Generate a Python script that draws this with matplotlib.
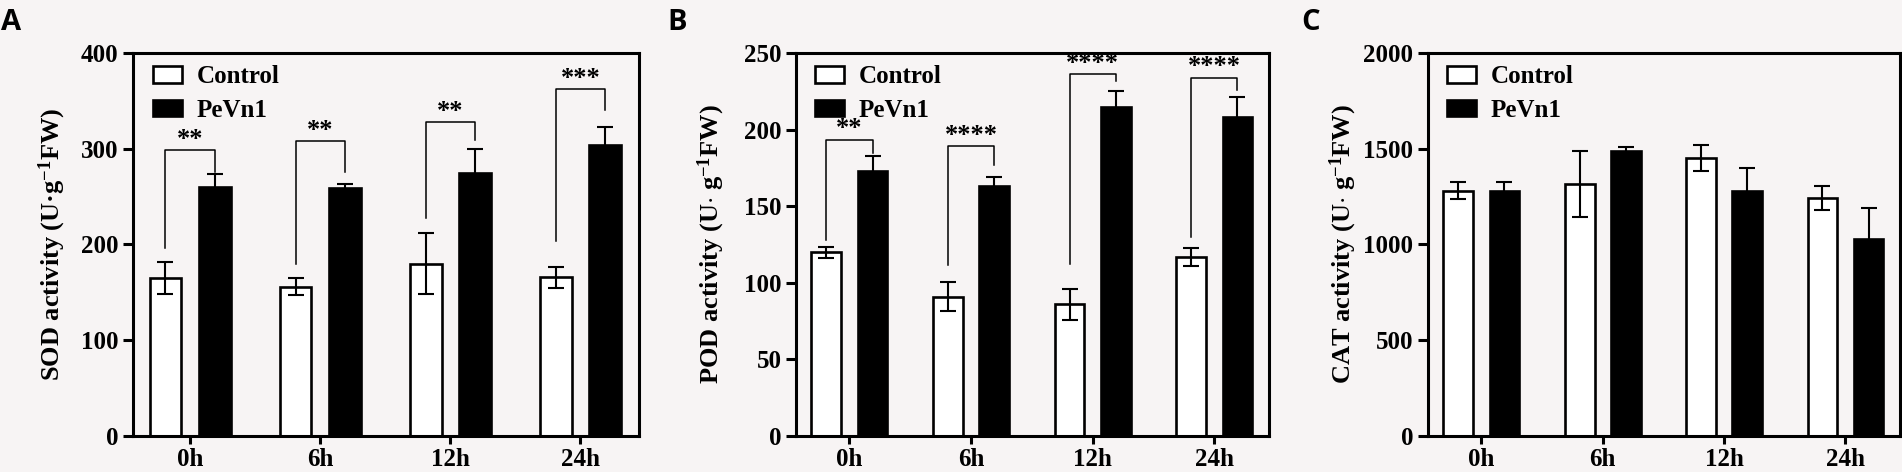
import numpy as np
import matplotlib
matplotlib.use("Agg")
import matplotlib.pyplot as plt

# Sampling times (x categories)
times = ["0h", "6h", "12h", "24h"]

# Panel A - SOD activity
sod_control = [165, 156, 180, 166]
sod_control_err = [17, 9, 32, 11]
sod_pevn1 = [260, 259, 275, 304]
sod_pevn1_err = [14, 4.5, 25, 19]
sod_stars = ["**", "**", "**", "***"]
sod_bracket_top = [299, 308, 328, 362]
sod_bracket_left = [196, 180, 228, 204]
sod_bracket_right = [276, 276, 309, 340]

# Panel B - POD activity
pod_control = [120, 91, 86, 117]
pod_control_err = [3.5, 9.5, 10, 6]
pod_pevn1 = [173, 163, 215, 208]
pod_pevn1_err = [10, 6, 10.5, 13]
pod_stars = ["**", "****", "****", "****"]
pod_bracket_top = [193.5, 189, 236, 234]
pod_bracket_left = [128, 111.5, 112.5, 130]
pod_bracket_right = [185, 177, 232, 226]

# Panel C - CAT activity
cat_control = [1280, 1316, 1452, 1242]
cat_control_err = [45, 173, 70, 61]
cat_pevn1 = [1280, 1489, 1280, 1031]
cat_pevn1_err = [45, 21, 120, 162]

BG = "#f7f4f4"
SERIF = "Liberation Serif"
BAR_W = 0.245
OFFSET = 0.19

plt.rcParams["font.family"] = SERIF
plt.rcParams["font.weight"] = "bold"
plt.rcParams["mathtext.fontset"] = "custom"
plt.rcParams["mathtext.rm"] = "Liberation Serif:bold"
plt.rcParams["mathtext.bf"] = "Liberation Serif:bold"
plt.rcParams["mathtext.it"] = "Liberation Serif:bold"
plt.rcParams["mathtext.default"] = "bf"


def draw_panel(ax, control, control_err, pevn1, pevn1_err, ymax, ystep, ylabel,
               label_x, stars=None, top=None, left=None, right=None):
    x = np.arange(len(times))
    ax.set_facecolor(BG)
    ax.bar(x - OFFSET, control, BAR_W, color="white", edgecolor="black",
           linewidth=1.9, label="Control", zorder=2)
    ax.bar(x + OFFSET, pevn1, BAR_W, color="black", edgecolor="black",
           linewidth=1.9, label="PeVn1", zorder=2)
    ax.errorbar(x - OFFSET, control, yerr=control_err, fmt="none", ecolor="black",
                elinewidth=1.5, capsize=5.5, capthick=1.5, zorder=3)
    ax.errorbar(x + OFFSET, pevn1, yerr=pevn1_err, fmt="none", ecolor="black",
                elinewidth=1.5, capsize=5.5, capthick=1.5, zorder=3)

    # significance brackets
    if stars is not None:
        for i, s in enumerate(stars):
            xl, xr = x[i] - OFFSET, x[i] + OFFSET
            ax.plot([xl, xl, xr, xr], [left[i], top[i], top[i], right[i]],
                    color="black", linewidth=1.1, zorder=3)
            ax.annotate(s, xy=((xl + xr) / 2, top[i]), xytext=(0, 3),
                        textcoords="offset points", ha="center", va="baseline",
                        fontsize=19, fontweight="bold")

    ax.set_xlim(-0.44, 3.45)
    ax.set_ylim(0, ymax)
    ax.set_xticks(x)
    ax.set_xticklabels(times)
    ax.set_yticks(np.arange(0, ymax + 1, ystep))
    ax.tick_params(axis="x", length=6, width=2.2, pad=3, labelsize=18)
    ax.tick_params(axis="y", length=7.5, width=2.2, pad=3, labelsize=18)
    for sp in ax.spines.values():
        sp.set_linewidth(2.2)
    ax.set_ylabel(ylabel, fontsize=19, fontweight="bold")
    ax.yaxis.set_label_coords(label_x, 0.5)

    leg = ax.legend(loc="upper left", bbox_to_anchor=(0.04, 0.968), frameon=False,
                    fontsize=18, handlelength=1.15, handleheight=0.65,
                    handletextpad=0.6, labelspacing=0.42, borderpad=0,
                    borderaxespad=0)
    return leg


fig = plt.figure(figsize=(19.02, 4.72), dpi=100, facecolor=BG)
ax_a = fig.add_axes([0.0699, 0.0763, 0.2660, 0.8114])
ax_b = fig.add_axes([0.4185, 0.0763, 0.2487, 0.8114])
ax_c = fig.add_axes([0.7508, 0.0763, 0.2482, 0.8114])

draw_panel(ax_a, sod_control, sod_control_err, sod_pevn1, sod_pevn1_err, 400, 100,
           r"SOD activity (U·g$^{-1}$FW)", -0.128,
           sod_stars, sod_bracket_top, sod_bracket_left, sod_bracket_right)
draw_panel(ax_b, pod_control, pod_control_err, pod_pevn1, pod_pevn1_err, 250, 50,
           r"POD activity (U$\cdot$ g$^{-1}$FW)", -0.146,
           pod_stars, pod_bracket_top, pod_bracket_left, pod_bracket_right)
draw_panel(ax_c, cat_control, cat_control_err, cat_pevn1, cat_pevn1_err, 2000, 500,
           r"CAT activity (U$\cdot$ g$^{-1}$FW)", -0.146)

# panel letters
for xpos, letter in [(1, "A"), (667, "B"), (1301, "C")]:
    fig.text(xpos / 1902, 1 - 30 / 472, letter, fontsize=21, fontweight="bold",
             family="Open Sans", ha="left", va="baseline")

fig.savefig("out.png", dpi=100, facecolor=BG)
